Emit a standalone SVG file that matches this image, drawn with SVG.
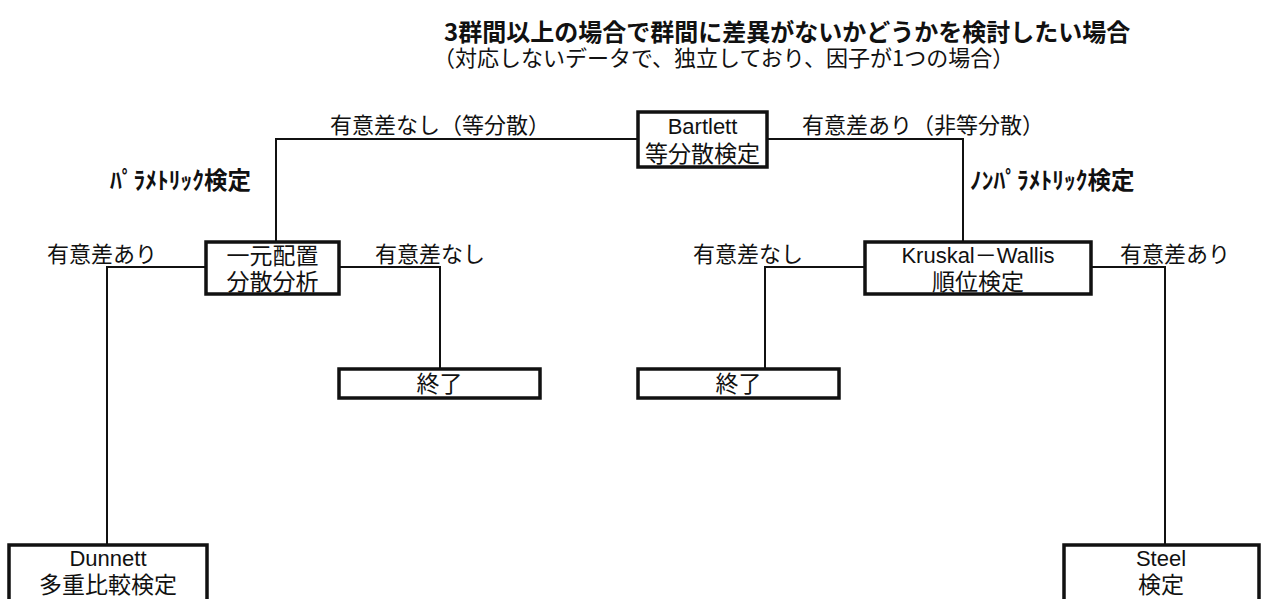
<svg xmlns="http://www.w3.org/2000/svg" width="1262" height="599" viewBox="0 0 1262 599">
<style>
.t{font-family:"Noto Sans CJK JP","Liberation Sans",sans-serif;fill:#111}
.lab{font-size:22px}
.bx{font-size:23px}
.lat{font-family:"Liberation Sans","Noto Sans CJK JP",sans-serif;font-size:22px;fill:#111}
.h{font-weight:700;font-size:24px}
.box{fill:#fff;stroke:#111;stroke-width:3.5}
.ln{fill:none;stroke:#111;stroke-width:2}
</style>
<rect width="1262" height="599" fill="#fff"/>
<g id="title">
<text class="t h" x="444" y="41">3群間以上の場合で群間に差異がないかどうかを検討したい場合</text>
<text class="t lab" x="433" y="66">（対応しないデータで、独立しており、因子が1つの場合）</text>
</g>
<g id="connectors">
<polyline class="ln" points="637,139 276,139 276,242"/>
<polyline class="ln" points="767,139 963,139 963,242"/>
<polyline class="ln" points="205,267 107,267 107,545"/>
<polyline class="ln" points="339,267 440,267 440,369"/>
<polyline class="ln" points="865,267 765,267 765,369"/>
<polyline class="ln" points="1091,267 1165,267 1165,545"/>
</g>
<g id="labels">
<text class="t lab" x="330" y="133">有意差なし（等分散）</text>
<text class="t lab" x="802" y="133">有意差あり（非等分散）</text>
<text class="t h" x="110" y="189" style="font-size:23.5px">ﾊﾟﾗﾒﾄﾘｯｸ検定</text>
<text class="t h" x="970" y="189" style="font-size:23.5px">ﾉﾝﾊﾟﾗﾒﾄﾘｯｸ検定</text>
<text class="t lab" x="47" y="262">有意差あり</text>
<text class="t lab" x="375" y="262">有意差なし</text>
<text class="t lab" x="693" y="262">有意差なし</text>
<text class="t lab" x="1120" y="262">有意差あり</text>
</g>
<g id="bartlett">
<rect class="box" x="638" y="112" width="129" height="55"/>
<text class="lat" x="702.5" y="134" text-anchor="middle">Bartlett</text>
<text class="t bx" x="702.5" y="162" text-anchor="middle">等分散検定</text>
</g>
<g id="anova">
<rect class="box" x="206" y="242" width="133" height="52"/>
<text class="t bx" x="272.5" y="264" text-anchor="middle">一元配置</text>
<text class="t bx" x="272.5" y="290" text-anchor="middle">分散分析</text>
</g>
<g id="kruskal">
<rect class="box" x="865" y="242" width="226" height="52"/>
<text class="lat" x="978" y="263" text-anchor="middle">Kruskal－Wallis</text>
<text class="t bx" x="978" y="290" text-anchor="middle">順位検定</text>
</g>
<g id="end1">
<rect class="box" x="339" y="369" width="201" height="29"/>
<text class="t bx" x="439.5" y="392" text-anchor="middle">終了</text>
</g>
<g id="end2">
<rect class="box" x="638" y="369" width="201" height="29"/>
<text class="t bx" x="738.5" y="392" text-anchor="middle">終了</text>
</g>
<g id="dunnett">
<rect class="box" x="9" y="545" width="198" height="58"/>
<text class="lat" x="108" y="566" text-anchor="middle">Dunnett</text>
<text class="t bx" x="108" y="593" text-anchor="middle">多重比較検定</text>
</g>
<g id="steel">
<rect class="box" x="1064" y="545" width="195" height="58"/>
<text class="lat" x="1161" y="566" text-anchor="middle">Steel</text>
<text class="t bx" x="1161" y="593" text-anchor="middle">検定</text>
</g>
</svg>
